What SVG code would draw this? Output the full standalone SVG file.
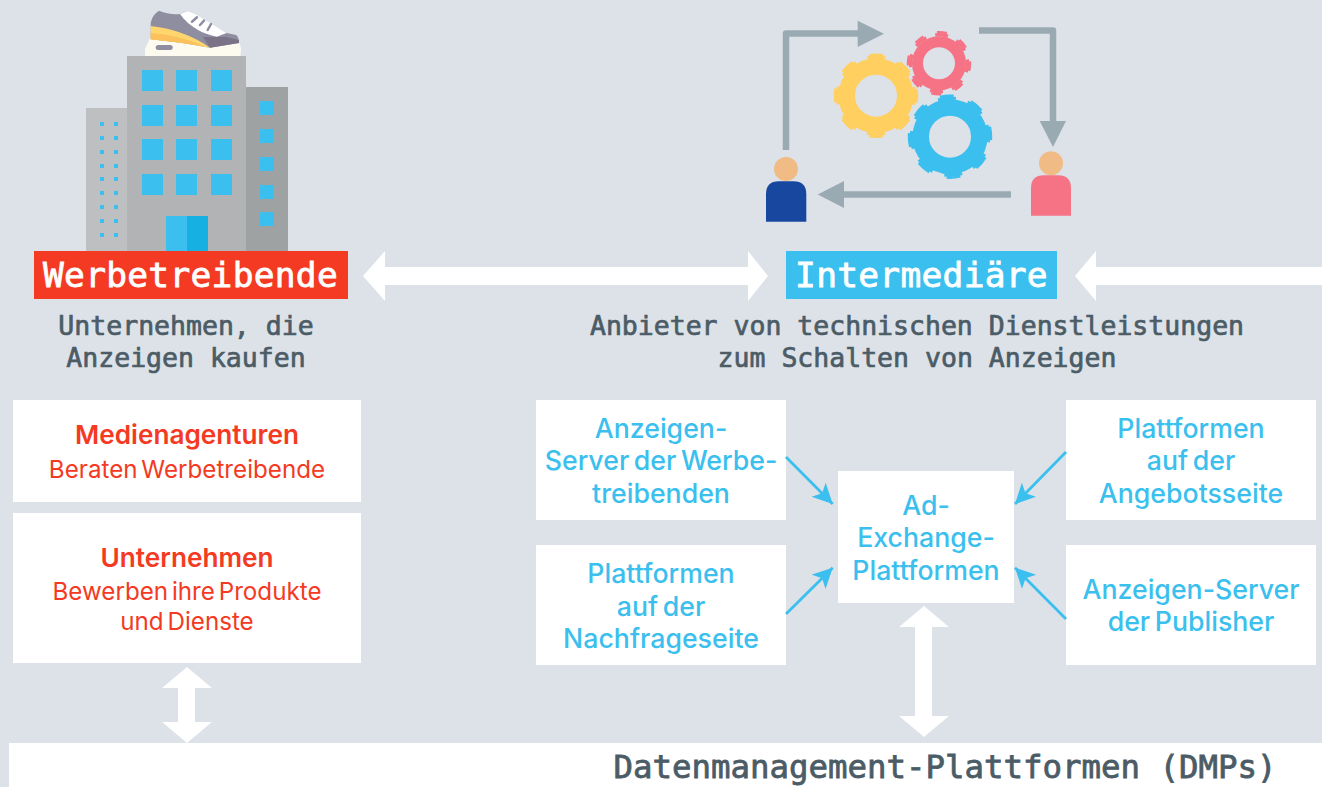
<svg xmlns="http://www.w3.org/2000/svg" width="1322" height="787" viewBox="0 0 1322 787">
<style>
.box{fill:#fff}
.win{fill:#3bbfee}
.mono{font-family:"DejaVu Sans Mono","Liberation Mono",monospace;font-weight:400;text-anchor:middle}
.sub{font-size:26.5px;fill:#4b5c66;stroke:#4b5c66;stroke-width:.7px}
.title{font-size:34.500px;fill:#fff;stroke:#fff;stroke-width:.8px;letter-spacing:.3px}
.dm{font-size:32.400px;fill:#4b5c66;stroke:#4b5c66;stroke-width:.8px}
.sans{font-family:"Inter","Noto Sans",sans-serif;text-anchor:middle}
.bl{font-size:26.700px;font-weight:500;fill:#3bbfee;word-spacing:-2.500px}
.rh{font-size:26.200px;font-weight:600;fill:#f43a22}
.rt{font-size:24.200px;font-weight:400;fill:#f43a22;word-spacing:-3px}
.wa{fill:#fff}
.ia{fill:#9aaab3}
.il{fill:none;stroke:#9aaab3;stroke-width:6.5;stroke-linejoin:round}
.cn{stroke:#3bbfee;stroke-width:2.8;fill:none;marker-end:url(#ah)}
.ring{fill:none}
</style>
<defs>
<marker id="ah" markerUnits="userSpaceOnUse" markerWidth="22" markerHeight="22" refX="20" refY="10" orient="auto">
<path d="M0 0L20 10L0 20L5 10Z" fill="#3bbfee"/>
</marker>
</defs>
<rect width="1322" height="787" fill="#dde2e9"/>
<g id="icon-building">
<rect x="86" y="108" width="42" height="143" fill="#bebfc0"/>
<rect x="246" y="87" width="42" height="164" fill="#9ea2a3"/>
<rect x="127" y="56" width="119" height="195" fill="#b1b3b5"/>
<g class="win">
<rect x="142" y="70" width="21" height="21"/><rect x="176" y="70" width="21" height="21"/><rect x="211" y="70" width="21" height="21"/>
<rect x="142" y="105" width="21" height="21"/><rect x="176" y="105" width="21" height="21"/><rect x="211" y="105" width="21" height="21"/>
<rect x="142" y="139" width="21" height="21"/><rect x="176" y="139" width="21" height="21"/><rect x="211" y="139" width="21" height="21"/>
<rect x="142" y="174" width="21" height="21"/><rect x="176" y="174" width="21" height="21"/><rect x="211" y="174" width="21" height="21"/>
<rect x="260" y="101" width="14" height="14"/><rect x="260" y="129" width="14" height="14"/><rect x="260" y="157" width="14" height="14"/><rect x="260" y="185" width="14" height="14"/><rect x="260" y="212" width="14" height="14"/>
<rect x="100" y="122" width="4" height="4"/><rect x="114" y="122" width="4" height="4"/>
<rect x="100" y="136" width="4" height="4"/><rect x="114" y="136" width="4" height="4"/>
<rect x="100" y="150" width="4" height="4"/><rect x="114" y="150" width="4" height="4"/>
<rect x="100" y="164" width="4" height="4"/><rect x="114" y="164" width="4" height="4"/>
<rect x="100" y="177" width="4" height="4"/><rect x="114" y="177" width="4" height="4"/>
<rect x="100" y="191" width="4" height="4"/><rect x="114" y="191" width="4" height="4"/>
<rect x="100" y="205" width="4" height="4"/><rect x="114" y="205" width="4" height="4"/>
<rect x="100" y="219" width="4" height="4"/><rect x="114" y="219" width="4" height="4"/>
<rect x="100" y="233" width="4" height="4"/><rect x="114" y="233" width="4" height="4"/>
<rect x="166" y="216" width="21" height="35"/>
</g>
<rect x="187" y="216" width="21" height="35" fill="#17b0e2"/>
</g>
<g id="icon-shoe">
<path d="M150.700 37L145 49V56H240.500L241 48L239 42L210 44Z" fill="#fdfbf0"/>
<path d="M150.700 39V23Q152 15 159 10.700Q169 15 180 14L188 11L226.700 33L236 35Q239 37 239 43L210 47.700Q180 42 150.700 39.300Z" fill="#8f8ea1"/>
<path d="M180 14L188 11L196.700 15L226.700 33L216.700 36.700Q205 34 198 30Q186 23 180 14Z" fill="#fff"/>
<path d="M203 37L226.700 37L239 40V43L210 47.700Z" fill="#7a7287"/>
<path d="M150.700 26Q185 30 210 47.700Q180 42 150.700 39.300Z" fill="#ffd66e"/>
<path d="M150.700 33Q180 35 205 46.500Q178 42 150.700 39.300Z" fill="#fbc15c"/>
<rect x="155.700" y="45" width="17" height="5" rx="2.500" fill="#8f8ea1"/>
<path d="M192 21.700L197 17.300M200 25L204 20.700M207.700 30L211 24" stroke="#8f8ea1" stroke-width="2.500" stroke-linecap="round" fill="none"/>
</g>
<g id="icon-process">
<path class="il" d="M786 150V33.500H860"/>
<path class="ia" d="M857.700 20.700L884 33.700L857.700 47Z"/>
<path class="il" d="M979 30.500H1053V123"/>
<path class="ia" d="M1039.700 121H1066L1053 147Z"/>
<path class="il" d="M1011 194.500H842"/>
<path class="ia" d="M844 181V208L817.700 194.500Z"/>
<g stroke="#ffcf60" class="ring">
<circle cx="876" cy="95.700" r="29.250" stroke-width="16.500"/>
<circle cx="876" cy="95.700" r="38.500" stroke-width="3.500" stroke-dasharray="18 12.240" stroke-dashoffset="9"/>
<circle cx="876" cy="95.700" r="41" stroke-width="2.500" stroke-dasharray="14 18.200" stroke-dashoffset="7"/>
</g>
<g stroke="#f57385" class="ring">
<circle cx="939" cy="63.300" r="21.500" stroke-width="11"/>
<circle cx="939" cy="63.300" r="28.500" stroke-width="3.500" stroke-dasharray="13 9.380" stroke-dashoffset="4"/>
<circle cx="939" cy="63.300" r="31" stroke-width="2.500" stroke-dasharray="10 14.350" stroke-dashoffset="2.300"/>
</g>
<g stroke="#3bbfee" class="ring">
<circle cx="950" cy="136.700" r="29.250" stroke-width="16.500"/>
<circle cx="950" cy="136.700" r="38.500" stroke-width="3.500" stroke-dasharray="18 12.240" stroke-dashoffset="12.400"/>
<circle cx="950" cy="136.700" r="41" stroke-width="2.500" stroke-dasharray="14 18.200" stroke-dashoffset="10.600"/>
</g>
<circle cx="786" cy="169" r="12" fill="#f0bb85"/>
<path d="M766 221.700V194.300Q766 181.300 779 181.300H793.300Q806.300 181.300 806.300 194.300V221.700Z" fill="#17479e"/>
<circle cx="1051" cy="163.300" r="12" fill="#f0bb85"/>
<path d="M1031 215.700V188.300Q1031 175.300 1044 175.300H1058Q1071 175.300 1071 188.300V215.700Z" fill="#f57385"/>
</g>
<g id="node-werbetreibende">
<rect x="34" y="251" width="314" height="48" fill="#f43a22"/>
<text class="mono title" x="190.500" y="287">Werbetreibende</text>
<text class="mono sub" x="186" y="335">Unternehmen, die</text>
<text class="mono sub" x="186" y="367">Anzeigen kaufen</text>
</g>
<g id="node-intermediaere">
<rect x="786" y="251" width="271" height="48" fill="#3bbfee"/>
<text class="mono title" x="921.500" y="287">Intermediäre</text>
<text class="mono sub" x="917" y="335">Anbieter von technischen Dienstleistungen</text>
<text class="mono sub" x="917" y="367">zum Schalten von Anzeigen</text>
</g>
<g id="node-medienagenturen">
<rect class="box" x="13" y="400" width="348" height="102"/>
<text class="sans rh" x="187" y="444">Medienagenturen</text>
<text class="sans rt" x="187" y="478">Beraten Werbetreibende</text>
</g>
<g id="node-unternehmen">
<rect class="box" x="13" y="513" width="348" height="150"/>
<text class="sans rh" x="187" y="567">Unternehmen</text>
<text class="sans rt" x="187" y="600">Bewerben ihre Produkte</text>
<text class="sans rt" x="187" y="630">und Dienste</text>
</g>
<g id="node-anzeigen-server-werbe">
<rect class="box" x="536" y="400" width="250" height="120"/>
<text class="sans bl" x="661" y="438">Anzeigen-</text>
<text class="sans bl" x="661" y="470">Server der Werbe-</text>
<text class="sans bl" x="661" y="503">treibenden</text>
</g>
<g id="node-nachfrage">
<rect class="box" x="536" y="545" width="250" height="120"/>
<text class="sans bl" x="661" y="583">Plattformen</text>
<text class="sans bl" x="661" y="616">auf der</text>
<text class="sans bl" x="661" y="648">Nachfrageseite</text>
</g>
<g id="node-angebot">
<rect class="box" x="1066" y="400" width="250" height="120"/>
<text class="sans bl" x="1191" y="438">Plattformen</text>
<text class="sans bl" x="1191" y="470">auf der</text>
<text class="sans bl" x="1191" y="503">Angebotsseite</text>
</g>
<g id="node-publisher">
<rect class="box" x="1066" y="545" width="250" height="120"/>
<text class="sans bl" x="1191" y="599">Anzeigen-Server</text>
<text class="sans bl" x="1191" y="631">der Publisher</text>
</g>
<g id="node-adx">
<rect class="box" x="838" y="471" width="176" height="132"/>
<text class="sans bl" x="926" y="515">Ad-</text>
<text class="sans bl" x="926" y="547">Exchange-</text>
<text class="sans bl" x="926" y="580">Plattformen</text>
</g>
<g id="node-dmp">
<rect class="box" x="9" y="743" width="1313" height="44"/>
<text class="mono dm" x="945" y="778">Datenmanagement-Plattformen (DMPs)</text>
</g>
<g id="connectors">
<path class="wa" d="M363 276L385 251V267H748V251L768 276L748 301V285H385V301Z"/>
<path class="wa" d="M1075 276L1096 251V267H1322V285H1096V301Z"/>
<path class="wa" d="M187 667L212 688H195V722H212L187 743L162 722H178V688H162Z"/>
<path class="wa" d="M924 606L949 627H932V716H949L924 737L899 716H915V627H899Z"/>
<path class="cn" d="M786 457L832.700 504"/>
<path class="cn" d="M786 614L832.700 567.700"/>
<path class="cn" d="M1066 452L1015 504"/>
<path class="cn" d="M1066 619L1015 567.700"/>
</g>
</svg>
